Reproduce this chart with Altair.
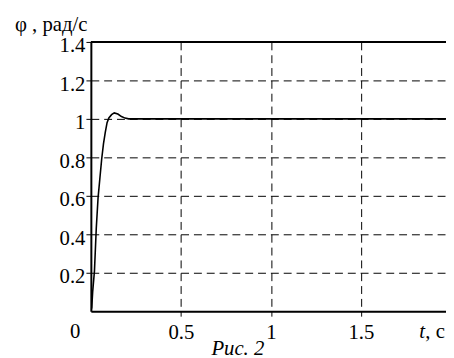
import altair as alt
import pandas as pd

# Step response data
t_vals = [0, 0.005, 0.01, 0.02, 0.03, 0.04, 0.05, 0.06, 0.07, 0.08, 0.09, 0.1,
          0.115, 0.13, 0.15, 0.17, 0.19, 0.21, 0.25, 0.5, 1.0, 1.5, 1.9726]
phi_vals = [0, 0.02, 0.1, 0.21, 0.43, 0.59, 0.69, 0.79, 0.87, 0.93, 0.98, 1.005,
            1.022, 1.031, 1.025, 1.012, 1.004, 1.0, 1.0, 1.0, 1.0, 1.0, 1.0]

y_ticks = [0.2, 0.4, 0.6, 0.8, 1.0, 1.2, 1.4]
x_ticks = [0.5, 1.0, 1.5]
y_title = "φ , рад/с"
fig_caption = "Рис. 2"

FONT = "Liberation Serif, Times New Roman, serif"
FS = 21
W, H = 360, 273
X_MAX = 1.9726
Y_MAX = 1.4

df = pd.DataFrame({"t": t_vals, "phi": phi_vals})

xs = alt.Scale(domain=[0, X_MAX], nice=False, zero=True)
ys = alt.Scale(domain=[0, Y_MAX], nice=False)

common_axis = dict(
    labelFont=FONT, labelFontSize=FS, labelColor="black",
    domainColor="black", domainWidth=2,
    tickColor="black", tickSize=5, tickWidth=1,
    gridColor="black", gridDash=[8, 5], gridWidth=1, gridOpacity=1,
    format=".1~f", title=None,
)

line = alt.Chart(df).mark_line(color="black", strokeWidth=1.6, clip=True).encode(
    x=alt.X("t:Q", scale=xs,
            axis=alt.Axis(values=x_ticks, labelPadding=6, labelFlush=False, **common_axis)),
    y=alt.Y("phi:Q", scale=ys,
            axis=alt.Axis(values=y_ticks, labelPadding=1, labelOffset=4,
                          labelFlush=False, **common_axis)),
)

top = alt.Chart(pd.DataFrame({"y": [Y_MAX]})).mark_rule(color="black", strokeWidth=2).encode(
    y=alt.Y("y:Q", scale=ys), x=alt.value(0), x2=alt.value(W)
)

one = pd.DataFrame({"a": [0]})

origin = alt.Chart(pd.DataFrame({"x": [0], "y": [0], "lab": ["0"]})).mark_text(
    font=FONT, fontSize=FS, color="black", align="center", baseline="alphabetic",
    dx=-16, dy=27.5
).encode(x=alt.X("x:Q", scale=xs), y=alt.Y("y:Q", scale=ys), text="lab:N")

ytitle = alt.Chart(one).mark_text(
    text=y_title, font=FONT, fontSize=FS, color="black", align="left", baseline="alphabetic"
).encode(x=alt.value(-77), y=alt.value(-11))

t_lab = alt.Chart(one).mark_text(
    text="t", font=FONT, fontSize=FS, fontStyle="italic", color="black",
    align="left", baseline="alphabetic"
).encode(x=alt.value(333), y=alt.value(300))

c_lab = alt.Chart(one).mark_text(
    text=", c", font=FONT, fontSize=FS, color="black", align="left", baseline="alphabetic"
).encode(x=alt.value(339), y=alt.value(300))

caption = alt.Chart(one).mark_text(
    text=fig_caption, font=FONT, fontSize=FS, fontStyle="italic", color="black",
    align="center", baseline="alphabetic"
).encode(x=alt.value(149), y=alt.value(317))

chart = alt.layer(line, top, origin, ytitle, t_lab, c_lab, caption).properties(
    width=W, height=H,
    autosize=alt.AutoSizeParams(type="none"),
    padding={"left": 84, "top": 32, "right": 0, "bottom": 45},
).configure_view(stroke=None).configure(background="white")

chart.save("out.html", embed_options={"renderer": "svg", "actions": False})
